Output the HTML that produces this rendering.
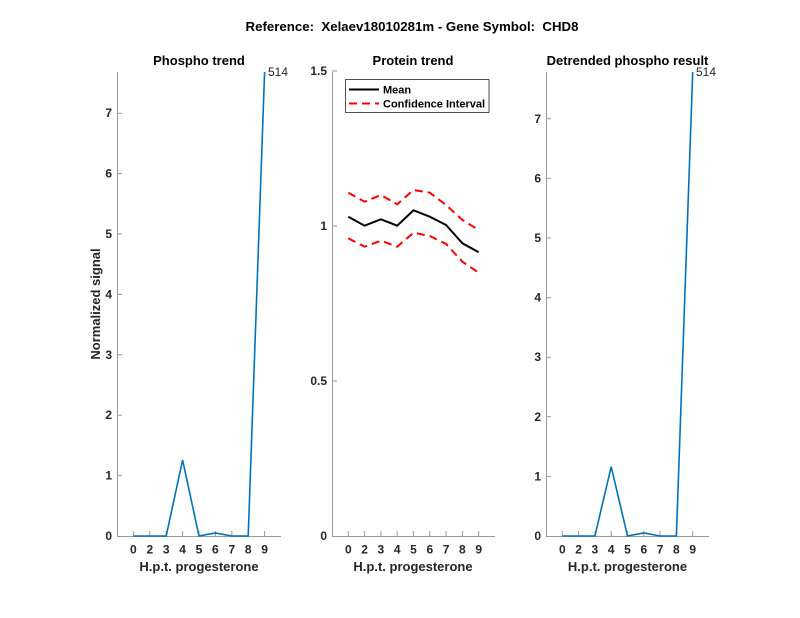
<!DOCTYPE html>
<html><head><meta charset="utf-8"><style>
html,body{margin:0;padding:0;background:#fff;}
svg{display:block;font-family:"Liberation Sans",Arial,sans-serif;}
.t{font-size:12px;font-weight:bold;fill:#262626;}
.lg{font-size:11px;font-weight:bold;fill:#000;}
.ttl{font-size:13px;font-weight:bold;fill:#000;}
.lab{font-size:13px;font-weight:bold;fill:#262626;}
</style></head><body>
<svg width="800" height="618" viewBox="0 0 800 618" xmlns="http://www.w3.org/2000/svg">
<rect width="800" height="618" fill="#fff"/>
<text x="412" y="31" class="ttl" text-anchor="middle" xml:space="preserve" textLength="333" lengthAdjust="spacingAndGlyphs">Reference:  Xelaev18010281m - Gene Symbol:  CHD8</text>

<!-- LEFT AXES -->
<g stroke="#9a9a9a" stroke-width="1" fill="none">
<path d="M117.5,72 V536.5 H281"/>
<path d="M133.4,536 v-5 M149.8,536 v-5 M166.2,536 v-5 M182.6,536 v-5 M199,536 v-5 M215.4,536 v-5 M231.8,536 v-5 M248.2,536 v-5 M264.6,536 v-5"/>
<path d="M117,475.6 h5 M117,415.2 h5 M117,354.8 h5 M117,294.4 h5 M117,234 h5 M117,173.6 h5 M117,113.2 h5"/>
</g>
<g class="t" text-anchor="end">
<text x="112" y="540">0</text><text x="112" y="479.6">1</text><text x="112" y="419.2">2</text><text x="112" y="358.8">3</text><text x="112" y="298.4">4</text><text x="112" y="238">5</text><text x="112" y="177.6">6</text><text x="112" y="117.2">7</text>
</g>
<g class="t" text-anchor="middle">
<text x="133.4" y="553.5">0</text><text x="149.8" y="553.5">2</text><text x="166.2" y="553.5">3</text><text x="182.6" y="553.5">4</text><text x="199" y="553.5">5</text><text x="215.4" y="553.5">6</text><text x="231.8" y="553.5">7</text><text x="248.2" y="553.5">8</text><text x="264.6" y="553.5">9</text>
</g>
<polyline fill="none" stroke="#0072BD" stroke-width="1.6" points="133.4,536 149.8,536 166.2,536 182.6,460 199,536 215.4,533 231.8,536 248.2,536 264.6,72"/>
<text x="268" y="76" style="font-size:12px;fill:#262626">514</text>
<text x="199" y="65" class="ttl" text-anchor="middle">Phospho trend</text>
<text x="199" y="571" class="lab" text-anchor="middle">H.p.t. progesterone</text>
<text transform="translate(100,304) rotate(-90)" class="lab" text-anchor="middle">Normalized signal</text>

<!-- MIDDLE AXES -->
<g stroke="#9a9a9a" stroke-width="1" fill="none">
<path d="M332.5,72 V536.5 H495"/>
<path d="M348.3,536 v-5 M364.6,536 v-5 M380.9,536 v-5 M397.2,536 v-5 M413.5,536 v-5 M429.8,536 v-5 M446.1,536 v-5 M462.4,536 v-5 M478.7,536 v-5"/>
<path d="M332,381 h5 M332,226 h5 M332,71 h5"/>
</g>
<g class="t" text-anchor="end">
<text x="327" y="540">0</text><text x="327" y="385">0.5</text><text x="327" y="230">1</text><text x="327" y="75">1.5</text>
</g>
<g class="t" text-anchor="middle">
<text x="348.3" y="553.5">0</text><text x="364.6" y="553.5">2</text><text x="380.9" y="553.5">3</text><text x="397.2" y="553.5">4</text><text x="413.5" y="553.5">5</text><text x="429.8" y="553.5">6</text><text x="446.1" y="553.5">7</text><text x="462.4" y="553.5">8</text><text x="478.7" y="553.5">9</text>
</g>
<polyline fill="none" stroke="#000" stroke-width="2" points="348.3,216.7 364.6,225.7 380.9,219.3 397.2,225.7 413.5,210.3 429.8,216.7 446.1,225 462.4,243.3 478.7,252.3"/>
<polyline fill="none" stroke="#ff0000" stroke-width="2" stroke-dasharray="8,5" points="348.3,192.7 364.6,201.7 380.9,195 397.2,204.3 413.5,190 429.8,192.7 446.1,205 462.4,220 478.7,230"/>
<polyline fill="none" stroke="#ff0000" stroke-width="2" stroke-dasharray="8,5" points="348.3,238.3 364.6,246.7 380.9,240.7 397.2,246.7 413.5,232.7 429.8,236 446.1,244 462.4,261.7 478.7,272.7"/>
<rect x="345.5" y="79.5" width="143.5" height="33" fill="#fff" stroke="#262626" stroke-width="0.8"/>
<line x1="349" y1="89.5" x2="379" y2="89.5" stroke="#000" stroke-width="2"/>
<line x1="349" y1="103.5" x2="379" y2="103.5" stroke="#ff0000" stroke-width="2" stroke-dasharray="8,5"/>
<text x="383" y="93.5" class="lg">Mean</text>
<text x="383" y="107.5" class="lg">Confidence Interval</text>
<text x="413" y="65" class="ttl" text-anchor="middle">Protein trend</text>
<text x="413" y="571" class="lab" text-anchor="middle">H.p.t. progesterone</text>

<!-- RIGHT AXES -->
<g stroke="#9a9a9a" stroke-width="1" fill="none">
<path d="M546.5,72 V536.5 H709"/>
<path d="M562.3,536 v-5 M578.6,536 v-5 M594.9,536 v-5 M611.2,536 v-5 M627.5,536 v-5 M643.8,536 v-5 M660.1,536 v-5 M676.4,536 v-5 M692.7,536 v-5"/>
<path d="M546,476.4 h5 M546,416.8 h5 M546,357.2 h5 M546,297.6 h5 M546,238 h5 M546,178.4 h5 M546,118.8 h5"/>
</g>
<g class="t" text-anchor="end">
<text x="541" y="540">0</text><text x="541" y="480.4">1</text><text x="541" y="420.8">2</text><text x="541" y="361.2">3</text><text x="541" y="301.6">4</text><text x="541" y="242">5</text><text x="541" y="182.4">6</text><text x="541" y="122.8">7</text>
</g>
<g class="t" text-anchor="middle">
<text x="562.3" y="553.5">0</text><text x="578.6" y="553.5">2</text><text x="594.9" y="553.5">3</text><text x="611.2" y="553.5">4</text><text x="627.5" y="553.5">5</text><text x="643.8" y="553.5">6</text><text x="660.1" y="553.5">7</text><text x="676.4" y="553.5">8</text><text x="692.7" y="553.5">9</text>
</g>
<polyline fill="none" stroke="#0072BD" stroke-width="1.6" points="562.3,536 578.6,536 594.9,536 611.2,466.7 627.5,536 643.8,533 660.1,536 676.4,536 692.7,72"/>
<text x="696" y="76" style="font-size:12px;fill:#262626">514</text>
<text x="627.5" y="65" class="ttl" text-anchor="middle">Detrended phospho result</text>
<text x="627.5" y="571" class="lab" text-anchor="middle">H.p.t. progesterone</text>
</svg>
</body></html>
